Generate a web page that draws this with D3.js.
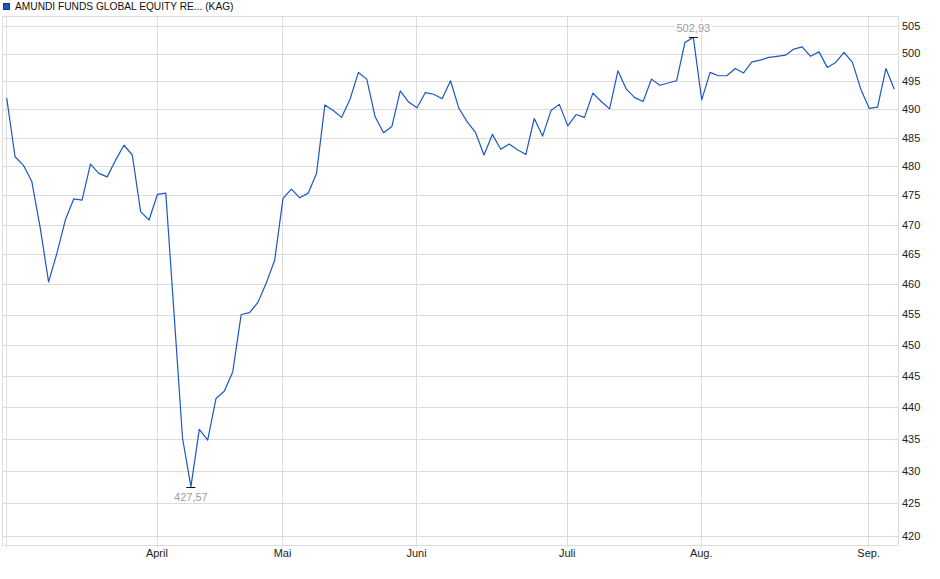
<!DOCTYPE html>
<meta charset="utf-8">
<script src="https://cdn.jsdelivr.net/npm/d3@7"></script>
<style>
    body { margin: 0; background: #fff; }
    svg { display: block; font-family: "Liberation Sans", Arial, sans-serif; }
</style>
<div id="chart"></div>
<script>
    // fund prices, one value per trading day
    var prices = [
        492.0, 481.7, 480.2, 477.4, 469.5, 460.4, 465.2, 470.8, 474.4, 474.2,
        480.4, 478.8, 478.2, 481.1, 483.7, 482.0, 472.2, 470.8, 475.2, 475.4,
        454.9, 435.1, 427.57, 436.5, 434.8, 441.4, 442.6, 445.7, 455.0, 455.3,
        457.0, 460.2, 464.0, 474.5, 476.1, 474.6, 475.4, 478.8, 490.8, 489.8,
        488.6, 491.8, 496.6, 495.4, 488.7, 485.9, 487.0, 493.3, 491.3, 490.3,
        493.0, 492.7, 491.9, 495.1, 490.2, 487.8, 485.9, 482.0, 485.6, 483.0,
        483.9, 482.9, 482.1, 488.4, 485.3, 489.8, 490.9, 487.1, 489.1, 488.6,
        492.9, 491.4, 490.1, 496.9, 493.6, 492.1, 491.4, 495.4, 494.3, 494.7,
        495.1, 502.0, 502.93, 491.7, 496.6, 496.0, 496.0, 497.3, 496.5, 498.5,
        498.8, 499.3, 499.5, 499.7, 500.8, 501.2, 499.5, 500.3, 497.5, 498.4,
        500.2, 498.4, 493.6, 490.2, 490.4, 497.3, 493.6
    ];

    // first trading day of each month (index into prices)
    var monthIdx = [0, 18, 33, 49, 67, 83, 103];
    var monthLabels = ["", "April", "Mai", "Juni", "Juli", "Aug.", "Sep."];

    var yTicks = d3.range(420, 506, 5);
    var title = "AMUNDI FUNDS GLOBAL EQUITY RE... (KAG)";

    var width = 940, height = 579;
    var frame = { left: 2.5, right: 898.5, top: 16.5, bottom: 545.5 };

    var svg = d3.select('#chart').append('svg')
        .attr('width', width)
        .attr('height', height);

    var x = d3.scaleLinear()
        .domain([0, prices.length - 1])
        .range([6.7, 894.3]);

    var y = d3.scaleLog()
        .domain([420, 505])
        .range([536, 26]);

    var snap = v => Math.round(v) + 0.5;
    var gridColor = '#dcdcdc';

    // horizontal grid
    svg.append('g').selectAll('line')
        .data(yTicks)
        .join('line')
        .attr('x1', frame.left).attr('x2', frame.right)
        .attr('y1', d => snap(y(d))).attr('y2', d => snap(y(d)))
        .attr('stroke', gridColor);

    // vertical grid at month starts
    svg.append('g').selectAll('line')
        .data(monthIdx)
        .join('line')
        .attr('x1', d => snap(x(d) - 0.7)).attr('x2', d => snap(x(d) - 0.7))
        .attr('y1', frame.top).attr('y2', frame.bottom + 2)
        .attr('stroke', gridColor);

    // frame
    svg.append('rect')
        .attr('x', frame.left).attr('y', frame.top)
        .attr('width', frame.right - frame.left)
        .attr('height', frame.bottom - frame.top)
        .attr('fill', 'none')
        .attr('stroke', gridColor);

    // right axis labels
    svg.append('g').selectAll('text')
        .data(yTicks)
        .join('text')
        .attr('x', 902)
        .attr('y', d => y(d))
        .attr('dy', '0.36em')
        .attr('font-size', 11)
        .attr('fill', '#222')
        .text(d => d);

    // month labels
    svg.append('g').selectAll('text')
        .data(monthIdx.map((d, i) => ({ i: d, label: monthLabels[i] })))
        .join('text')
        .attr('x', d => x(d.i) - 0.5)
        .attr('y', 557)
        .attr('text-anchor', 'middle')
        .attr('font-size', 11)
        .attr('fill', '#222')
        .text(d => d.label);

    // price line
    var line = d3.line()
        .x((d, i) => x(i))
        .y(d => y(d));

    svg.append('path')
        .datum(prices)
        .attr('d', line)
        .attr('fill', 'none')
        .attr('stroke', '#1b58c4')
        .attr('stroke-width', 1.2)
        .attr('stroke-linejoin', 'round');

    // high / low markers
    var hi = d3.maxIndex(prices), lo = d3.minIndex(prices);
    var fmt = v => v.toFixed(2).replace('.', ',');

    [{ i: hi, above: true }, { i: lo, above: false }].forEach(m => {
        var px = x(m.i), py = y(prices[m.i]);
        var g = svg.append('g');
        var t = g.append('text')
            .attr('x', px)
            .attr('y', m.above ? py - 5.7 : py + 14.2)
            .attr('text-anchor', 'middle')
            .attr('font-size', 11)
            .attr('fill', '#9c9c9c')
            .text(fmt(prices[m.i]));
        var bb = t.node().getBBox();
        g.insert('rect', 'text')
            .attr('x', bb.x - 2).attr('y', bb.y)
            .attr('width', bb.width + 4).attr('height', bb.height)
            .attr('fill', '#fff')
            .attr('opacity', 0.85);
        svg.append('line')
            .attr('x1', px - 4.5).attr('x2', px + 4.5)
            .attr('y1', snap(py)).attr('y2', snap(py))
            .attr('stroke', '#111')
            .attr('stroke-width', 1);
    });

    // legend
    svg.append('rect')
        .attr('x', 3.5).attr('y', 3.5)
        .attr('width', 6).attr('height', 6)
        .attr('fill', '#1f58bd')
        .attr('stroke', '#123a80');

    svg.append('text')
        .attr('x', 15)
        .attr('y', 10.3)
        .attr('font-size', 10.2)
        .attr('fill', '#111')
        .text(title);
</script>
